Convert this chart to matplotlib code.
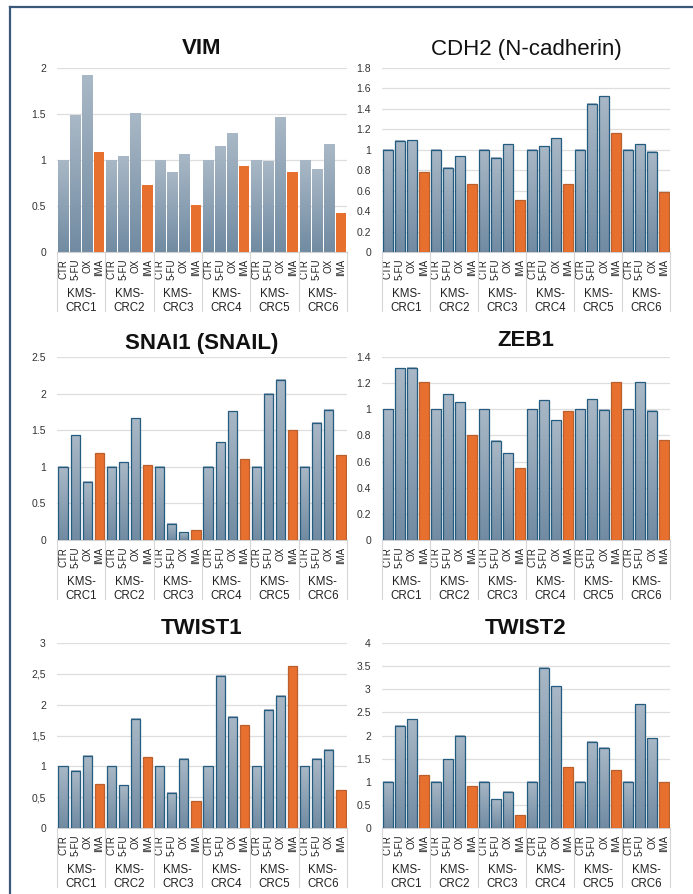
import matplotlib
matplotlib.use('Agg')
import matplotlib.pyplot as plt
import numpy as np
from matplotlib.colors import LinearSegmentedColormap
from matplotlib.transforms import blended_transform_factory
from matplotlib.lines import Line2D

plt.rcParams['font.family'] = ['Liberation Sans', 'DejaVu Sans']

# ---------------- data ----------------
treatments = ['CTR', '5-FU', 'OX', 'IMA']
cell_lines = ['KMS-\nCRC1', 'KMS-\nCRC2', 'KMS-\nCRC3', 'KMS-\nCRC4', 'KMS-\nCRC5', 'KMS-\nCRC6']

vim = [1.00, 1.48, 1.92, 1.09,
       1.00, 1.04, 1.51, 0.73,
       1.00, 0.86, 1.06, 0.51,
       1.00, 1.145, 1.29, 0.93,
       1.00, 0.98, 1.46, 0.87,
       1.00, 0.90, 1.17, 0.42]

cdh2 = [1.00, 1.086, 1.095, 0.78,
        1.00, 0.825, 0.935, 0.665,
        1.00, 0.92, 1.053, 0.51,
        1.00, 1.034, 1.115, 0.665,
        1.00, 1.45, 1.526, 1.164,
        1.00, 1.053, 0.98, 0.584]

snai1 = [1.00, 1.43, 0.795, 1.195,
         1.00, 1.064, 1.66, 1.02,
         1.00, 0.223, 0.105, 0.13,
         1.00, 1.336, 1.76, 1.11,
         1.00, 1.995, 2.19, 1.50,
         1.00, 1.605, 1.777, 1.155]

zeb1 = [1.00, 1.313, 1.318, 1.206,
        1.00, 1.114, 1.055, 0.80,
        1.00, 0.76, 0.662, 0.55,
        1.00, 1.07, 0.915, 0.99,
        1.00, 1.078, 0.996, 1.21,
        1.00, 1.208, 0.99, 0.764]

twist1 = [1.00, 0.93, 1.17, 0.716,
          1.00, 0.69, 1.774, 1.15,
          1.00, 0.57, 1.123, 0.434,
          1.00, 2.47, 1.807, 1.671,
          1.00, 1.92, 2.143, 2.62,
          1.00, 1.123, 1.27, 0.624]

twist2 = [1.00, 2.213, 2.35, 1.15,
          1.00, 1.49, 1.99, 0.91,
          1.00, 0.62, 0.78, 0.29,
          1.00, 3.47, 3.06, 1.32,
          1.00, 1.866, 1.736, 1.244,
          1.00, 2.676, 1.94, 1.00]

titles = ['VIM', 'CDH2 (N-cadherin)', 'SNAI1 (SNAIL)', 'ZEB1', 'TWIST1', 'TWIST2']
series = [vim, cdh2, snai1, zeb1, twist1, twist2]
y_max = [2, 1.8, 2.5, 1.4, 3, 4]
y_step = [0.5, 0.2, 0.5, 0.2, 0.5, 0.5]

# ---------------- style ----------------
W, H = 693, 894
fig = plt.figure(figsize=(W / 100, H / 100), dpi=100)

grey_top = '#a9b8c6'
grey_bot = '#718ba2'
orange = '#e8702f'
edge_blue = '#245c80'
grid_c = '#dedede'
cmap = LinearSegmentedColormap.from_list('g', [grey_bot, grey_top])

col_px = [(57, 347), (382, 670)]
row_px = [(68, 252), (357, 540), (643, 828)]
title_gap = [20, 18, 14, 17, 15, 14]
title_weight = ['bold', 'normal', 'bold', 'bold', 'bold', 'bold']
decimal_comma = [False, False, False, False, True, False]
has_edges = [False, True, True, True, True, True]

for i in range(6):
    r, c = divmod(i, 2)
    (x0, x1), (y0, y1) = col_px[c], row_px[r]
    hpx = y1 - y0
    ax = fig.add_axes([x0 / W, 1 - y1 / H, (x1 - x0) / W, hpx / H])
    vals = series[i]
    n = len(vals)
    x = np.arange(n)
    width = 0.86 if not has_edges[i] else 0.76
    is_ima = [treatments[k % 4] == 'IMA' for k in range(n)]
    face = [orange if m else 'none' for m in is_ima]
    if has_edges[i]:
        edges = ['#b9602e' if m else edge_blue for m in is_ima]
        lw = 0.9
    else:
        edges = ['none'] * n
        lw = 0
    bars = ax.bar(x, vals, width=width, color=face, edgecolor=edges, linewidth=lw, zorder=3)
    grad = np.linspace(0, 1, 128).reshape(-1, 1)
    for b, m in zip(bars, is_ima):
        if m:
            continue
        bx, bw, bh = b.get_x(), b.get_width(), b.get_height()
        ax.imshow(grad, extent=(bx, bx + bw, 0, bh), origin='lower', cmap=cmap,
                  aspect='auto', zorder=2, interpolation='bilinear')
    ax.set_xlim(-0.5, n - 0.5)
    ax.set_ylim(0, y_max[i])
    ticks = np.round(np.arange(0, y_max[i] + 1e-9, y_step[i]), 3)
    ax.set_yticks(ticks)
    labs = [('%g' % t) for t in ticks]
    if decimal_comma[i]:
        labs = [s.replace('.', ',') for s in labs]
    ax.set_yticklabels(labs)
    ax.yaxis.grid(True, color=grid_c, lw=0.9)
    ax.set_axisbelow(True)
    for s in ['top', 'right', 'left']:
        ax.spines[s].set_visible(False)
    ax.spines['bottom'].set_color('#d0d0d0')
    ax.spines['bottom'].set_linewidth(0.8)
    ax.tick_params(axis='y', length=0, pad=8, labelsize=7.5, labelcolor='#333333')
    ax.set_xticks(x)
    ax.set_xticklabels([treatments[k % 4] for k in range(n)], rotation=90, fontsize=7.0,
                       color='#222222')
    ax.tick_params(axis='x', length=0, pad=5)

    blend = blended_transform_factory(ax.transData, ax.transAxes)
    sep_bottom = -59 / hpx
    for g in range(len(cell_lines) + 1):
        xs = g * 4 - 0.5
        ax.add_line(Line2D([xs, xs], [0, sep_bottom], transform=blend, color='#d6d6d6',
                           lw=0.8, clip_on=False))
    for g, name in enumerate(cell_lines):
        ax.text(g * 4 + 1.5, -49 / hpx, name, transform=blend, ha='center', va='center',
                fontsize=8.3, linespacing=1.25, color='#222222', multialignment='center')

    ax.text(0.5, 1 + title_gap[i] / hpx, titles[i], transform=ax.transAxes, ha='center',
            va='center', fontsize=16, fontweight=title_weight[i], color='#111111')

# frame lines (top and left)
fig.add_artist(Line2D([10 / W, 1], [1 - 7 / H, 1 - 7 / H], transform=fig.transFigure,
                      color='#3b5878', lw=1.6))
fig.add_artist(Line2D([10 / W, 10 / W], [1 - 7 / H, 0], transform=fig.transFigure,
                      color='#3b5878', lw=1.6))

fig.savefig('out.png', dpi=100, facecolor='white')
